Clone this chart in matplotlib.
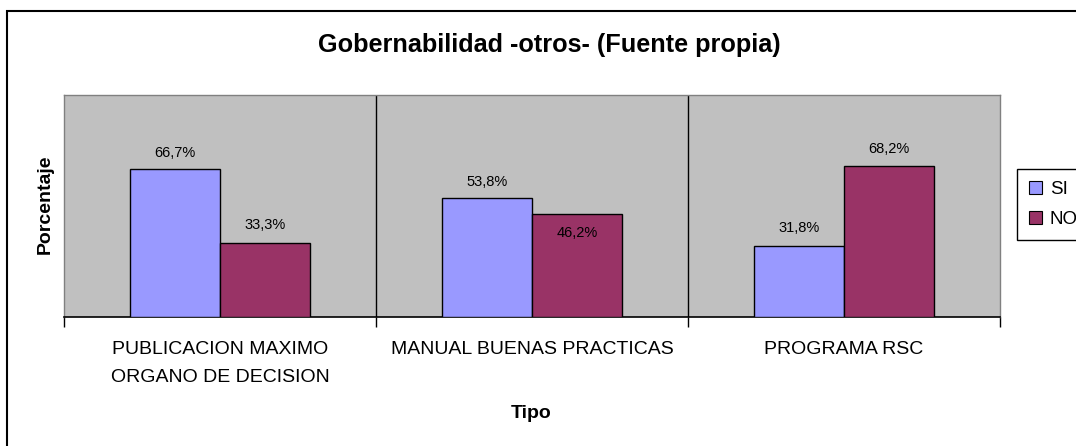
import matplotlib
matplotlib.use("Agg")
import matplotlib.pyplot as plt
from matplotlib.patches import Rectangle
import numpy as np

plt.rcParams["font.family"] = ["Liberation Sans", "DejaVu Sans"]

categories = ["PUBLICACION MAXIMO\nORGANO DE DECISION", "MANUAL BUENAS PRACTICAS", "PROGRAMA RSC"]
si_values = [66.7, 53.8, 31.8]
no_values = [33.3, 46.2, 68.2]
si_labels = ["66,7%", "53,8%", "31,8%"]
no_labels = ["33,3%", "46,2%", "68,2%"]

SI_COLOR = "#9999FF"
NO_COLOR = "#993366"
PLOT_BG = "#C0C0C0"

W, H = 1076, 446
fig = plt.figure(figsize=(W / 100, H / 100), dpi=100)
fig.patch.set_facecolor("white")

# plot area in pixels: x 64..1000, y 95..317
ax = fig.add_axes([64 / W, (H - 317) / H, 936 / W, 222 / H])
ax.set_facecolor(PLOT_BG)

x = np.arange(len(categories))
bw = 90 / 312
ax.bar(x - bw / 2, si_values, bw, color=SI_COLOR, edgecolor="black", lw=1.0, label="SI", zorder=3)
ax.bar(x + bw / 2, no_values, bw, color=NO_COLOR, edgecolor="black", lw=1.0, label="NO", zorder=3)

# data labels (Excel put the 46,2% one inside the bar)
si_off = [16, 16, 18]
no_off = [18, -19, 17]
for i in range(len(categories)):
    ax.annotate(si_labels[i], (x[i] - bw / 2, si_values[i]), xytext=(0, si_off[i]),
                textcoords="offset pixels", ha="center", va="center", fontsize=10.5, zorder=4)
    ax.annotate(no_labels[i], (x[i] + bw / 2, no_values[i]), xytext=(0, no_off[i]),
                textcoords="offset pixels", ha="center", va="center", fontsize=10.5, zorder=4)

ax.set_xlim(-0.5, len(categories) - 0.5)
ax.set_ylim(0, 100)
ax.set_yticks([])

# category separators
for b in np.arange(0.5, len(categories) - 0.5, 1.0):
    ax.axvline(b, color="black", lw=1.0, zorder=2)

ax.set_xticks(np.arange(-0.5, len(categories), 1.0))
ax.set_xticklabels([])
ax.set_xticks(x, minor=True)
ax.set_xticklabels(categories, minor=True, fontsize=14, linespacing=1.9)
ax.tick_params(axis="x", which="major", length=7, width=1.0, color="black", direction="out")
ax.tick_params(axis="x", which="minor", length=0, pad=17)
for lbl in ax.get_xticklabels(minor=True):
    lbl.set_verticalalignment("top")

for side in ("left", "top", "right"):
    ax.spines[side].set_color("#808080")
    ax.spines[side].set_linewidth(1.0)
ax.spines["bottom"].set_color("black")
ax.spines["bottom"].set_linewidth(1.2)

fig.text(549 / W, 1 - 52 / H, "Gobernabilidad -otros- (Fuente propia)", ha="center", va="baseline",
         fontsize=18.2, fontweight="bold")
fig.text(45 / W, 1 - 204 / H, "Porcentaje", rotation=90, ha="center", va="center",
         fontsize=14, fontweight="bold")
fig.text(531 / W, 1 - 414 / H, "Tipo", ha="center", va="center", fontsize=14, fontweight="bold")

leg = ax.legend(loc="upper left", bbox_to_anchor=(1017 / W, 1 - 169 / H), bbox_transform=fig.transFigure,
                fontsize=13.5, frameon=True, fancybox=False, edgecolor="black", framealpha=1,
                handlelength=0.7, handleheight=0.7, handletextpad=0.4, borderpad=0.65,
                labelspacing=0.65, borderaxespad=0)
leg.get_frame().set_linewidth(1.0)
for h in leg.legend_handles:
    h.set_edgecolor("black")
    h.set_linewidth(0.8)

# chart outer frame (runs past right and bottom edges)
fig.add_artist(Rectangle((7 / W, -0.1), 1.2, (H - 11) / H + 0.1, transform=fig.transFigure,
                         fill=False, edgecolor="black", lw=1.5))

fig.savefig("out.png", dpi=100)
